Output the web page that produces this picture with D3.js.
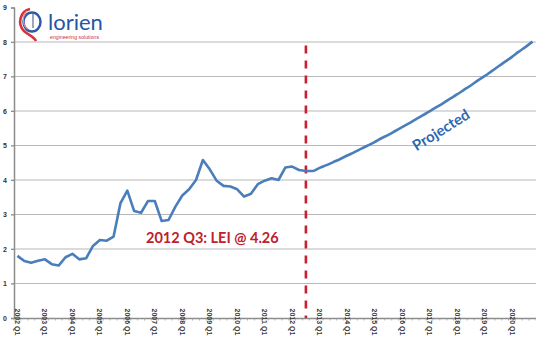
<!DOCTYPE html>
<html>
<head>
<meta charset="utf-8">
<script src="https://cdn.jsdelivr.net/npm/d3@7"></script>
<style>
  body { margin: 0; background: #fff; }
  svg { display: block; }
</style>
</head>
<body>
<div id="app"></div>
<script>
'use strict'

// quarterly LEI, 2002 Q1 .. 2012 Q3
const history = [
  1.80, 1.65, 1.60, 1.66,
  1.70, 1.56, 1.52, 1.76,
  1.86, 1.70, 1.73, 2.09,
  2.26, 2.24, 2.36, 3.33,
  3.69, 3.10, 3.05, 3.39,
  3.39, 2.81, 2.84, 3.23,
  3.55, 3.73, 4.00, 4.58,
  4.31, 3.98, 3.83, 3.81,
  3.73, 3.52, 3.60, 3.88,
  3.98, 4.05, 4.00, 4.36,
  4.39, 4.29, 4.26
]
// projection, 2012 Q3 .. 2020 Q4
const projected = [
  4.26, 4.26,
  4.35, 4.43, 4.52, 4.61,
  4.71, 4.80, 4.90, 5.00,
  5.10, 5.21, 5.31, 5.42,
  5.53, 5.64, 5.76, 5.87,
  5.99, 6.11, 6.23, 6.36,
  6.48, 6.61, 6.74, 6.88,
  7.01, 7.15, 7.29, 7.43,
  7.57, 7.72, 7.86, 8.01
]
const years = d3.range(2002, 2021)
const categories = years.flatMap(yr => [1, 2, 3, 4].map(q => yr + ' Q' + q))
const yTicks = [0, 1, 2, 3, 4, 5, 6, 7, 8, 9]
const markerCategory = '2012 Q3'

const width = 536
const height = 351
const margin = { top: 7.5, right: 0, bottom: 33, left: 14 }

const svg = d3.select('#app').append('svg')
  .attr('width', width)
  .attr('height', height)

const x = d3.scaleBand()
  .domain(categories)
  .range([margin.left, width - margin.right])

const y = d3.scaleLinear()
  .domain([0, 9])
  .range([height - margin.bottom, margin.top])

const cx = c => x(c) + x.bandwidth() / 2

// gridlines
svg.append('g')
  .selectAll('line')
  .data(yTicks.filter(d => d > 0 && d < 9))
  .enter().append('line')
  .attr('x1', margin.left - 3)
  .attr('x2', width)
  .attr('y1', d => y(d))
  .attr('y2', d => y(d))
  .attr('stroke', '#b8b8b8')
  .attr('stroke-width', 1.2)

// y axis
const yAxis = svg.append('g')
  .attr('transform', `translate(${margin.left},0)`)
  .call(d3.axisLeft(y).tickValues(yTicks).tickSize(3).tickFormat(d3.format('d')))
yAxis.select('.domain').attr('stroke', '#8c8c8c').attr('stroke-width', 1.5)
yAxis.selectAll('line').attr('stroke', '#8c8c8c')
yAxis.selectAll('text')
  .attr('x', -7)
  .style('font-family', 'Liberation Sans, Arial, sans-serif')
  .style('font-size', '7px')
  .style('font-weight', 'bold')
  .style('fill', '#333')

// x axis
const xAxis = svg.append('g')
  .attr('transform', `translate(0,${y(0)})`)
  .call(d3.axisBottom(x).tickValues([]).tickSizeOuter(0))
xAxis.select('.domain').attr('stroke', '#8c8c8c').attr('stroke-width', 1.5)

xAxis.selectAll('.qtick')
  .data(categories.concat(['end']))
  .enter().append('line')
  .attr('class', 'qtick')
  .attr('x1', (d, i) => margin.left + i * x.bandwidth())
  .attr('x2', (d, i) => margin.left + i * x.bandwidth())
  .attr('y1', 0)
  .attr('y2', 2.5)
  .attr('stroke', '#9a9a9a')
  .attr('stroke-width', 0.8)

xAxis.selectAll('.ylabel')
  .data(years)
  .enter().append('text')
  .attr('class', 'ylabel')
  .attr('transform', d => `translate(${cx(d + ' Q1')},4) rotate(90)`)
  .attr('dy', '0.35em')
  .text(d => d + ' Q1')
  .style('font-family', 'Liberation Sans, Arial, sans-serif')
  .style('font-size', '7px')
  .style('font-weight', 'bold')
  .style('fill', '#3a3a3a')

// marker line at the latest actual value
svg.append('line')
  .attr('x1', cx(markerCategory))
  .attr('x2', cx(markerCategory))
  .attr('y1', y(7.9))
  .attr('y2', y(0))
  .attr('stroke', '#c8202e')
  .attr('stroke-width', 2.6)
  .attr('stroke-dasharray', '8,7')

const histPts = history.map((v, i) => [cx(categories[i]), y(v)])
const projPts = projected.map((v, i) => [cx(categories[i + history.length - 1]), y(v)])

svg.append('path')
  .attr('d', d3.line()(histPts))
  .attr('fill', 'none')
  .attr('stroke', '#4a7ebb')
  .attr('stroke-width', 2.6)
  .attr('stroke-linejoin', 'round')

svg.append('path')
  .attr('d', d3.line().curve(d3.curveMonotoneX)(projPts))
  .attr('fill', 'none')
  .attr('stroke', '#4a7ebb')
  .attr('stroke-width', 2.6)
  .attr('stroke-linejoin', 'round')

// annotations
svg.append('text')
  .attr('x', 146)
  .attr('y', 243)
  .text('2012 Q3: LEI @ 4.26')
  .style('font-family', 'Lato, Open Sans, sans-serif')
  .style('font-size', '14.5px')
  .style('font-weight', 'bold')
  .style('fill', '#c0202a')

svg.append('text')
  .attr('transform', 'translate(441,130) rotate(-32)')
  .attr('text-anchor', 'middle')
  .attr('dy', '0.35em')
  .text('Projected')
  .style('font-family', 'Lato, Open Sans, sans-serif')
  .style('font-size', '15px')
  .style('font-weight', 'bold')
  .style('fill', '#2f67b2')

// logo
const logo = svg.append('g')
logo.append('ellipse')
  .attr('cx', 32).attr('cy', 22).attr('rx', 8.5).attr('ry', 9.5)
  .attr('fill', 'none').attr('stroke', '#2a5aa8').attr('stroke-width', 2.5)
logo.append('path')
  .attr('d', 'M30,9 C20,11 17,24 24,31 C28,35 34,36 36,41')
  .attr('fill', 'none').attr('stroke', '#d6333c').attr('stroke-width', 2.6)
logo.append('path')
  .attr('d', 'M27,11 C22,15 22,26 28,29')
  .attr('fill', 'none').attr('stroke', '#e88a8f').attr('stroke-width', 1.2)
logo.append('line')
  .attr('x1', 33).attr('y1', 13).attr('x2', 33).attr('y2', 28)
  .attr('stroke', '#5a6e8a').attr('stroke-width', 1.2)
logo.append('text')
  .attr('x', 48).attr('y', 30)
  .text('lorien')
  .style('font-family', 'Lato, Open Sans, sans-serif')
  .style('font-size', '22px')
  .style('fill', '#2456a4')
logo.append('text')
  .attr('x', 50).attr('y', 39)
  .text('engineering solutions')
  .style('font-family', 'Liberation Sans, Arial, sans-serif')
  .style('font-size', '5.2px')
  .style('fill', '#d0303a')
</script>
</body>
</html>
